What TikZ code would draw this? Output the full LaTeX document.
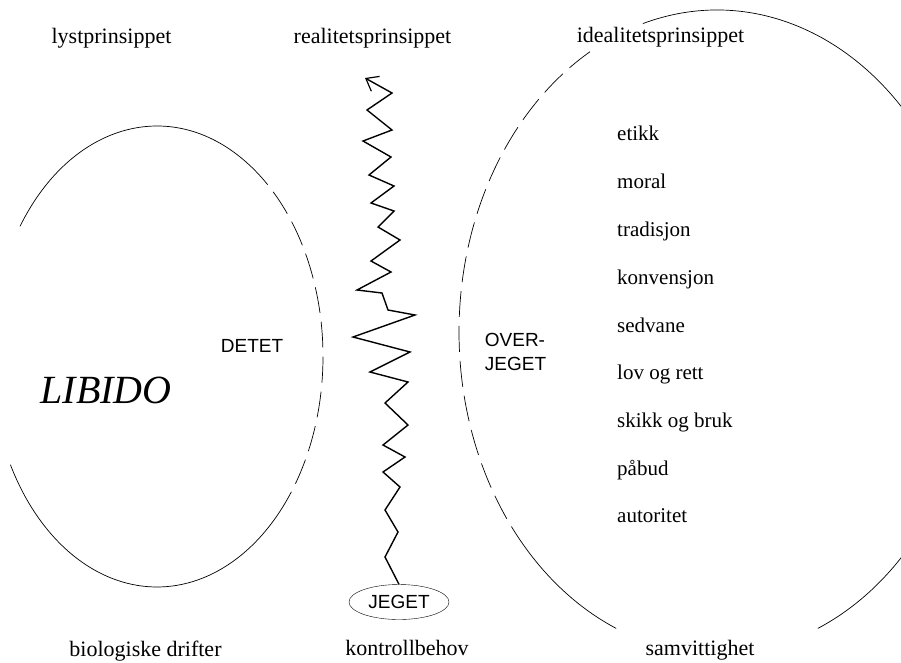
\documentclass[tikz,border=0pt]{standalone}
\usepackage{fontspec}
\setmainfont{Liberation Serif}
\setsansfont{Liberation Sans}
\usepackage{tikz}
\usetikzlibrary{shapes.geometric,arrows.meta}

\begin{document}
\begin{tikzpicture}[x=1pt,y=-1pt,
  principle/.style ={font=\fontsize{22}{26}\selectfont, anchor=base, inner sep=0pt},
  norm/.style ={font=\fontsize{21}{25}\selectfont, anchor=base west, inner sep=0pt},
  part/.style ={font=\sffamily\fontsize{19}{24}\selectfont, inner sep=0pt, align=left},
  ego/.style ={ellipse, draw, thin, inner sep=0pt, minimum width=100pt, minimum height=35pt},
  border/.style ={line width=0.7pt},
  broken/.style ={line width=0.7pt, dash pattern=on 26pt off 9pt},
  drive/.style ={line width=1.4pt, line join=miter, -{Straight Barb[length=11pt,width=17pt,line width=1.2pt]}}]
 \useasboundingbox (0,0) rectangle (901,662);
 \clip (0,0) rectangle (901,662);
 \node[principle] (lyst) at (111.5,43) {lystprinsippet};
 \node[principle] (realitet) at (372.5,43) {realitetsprinsippet};
 \node[principle] (idealitet) at (660.5,42) {idealitetsprinsippet};
 \node[principle] (drifter) at (145.5,656) {biologiske drifter};
 \node[principle] (kontroll) at (407,655) {kontrollbehov};
 \node[principle] (samvittighet) at (700,655) {samvittighet};
 \node[font=\itshape\fontsize{40}{44}\selectfont, inner sep=0pt] (libido) at (106,390) {LIBIDO};
 \node[part] (detet) at (252,345.5) {DETET};
 \node[part] (overjeget) at (515.5,352) {OVER-\\JEGET};
 \node[ego, font=\sffamily\fontsize{19}{24}\selectfont] (jeget) at (399,602) {JEGET};
 \node[norm] (etikk) at (617,140) {etikk};
 \node[norm] (moral) at (617,188) {moral};
 \node[norm] (tradisjon) at (617,236) {tradisjon};
 \node[norm] (konvensjon) at (617,284) {konvensjon};
 \node[norm] (sedvane) at (617,332) {sedvane};
 \node[norm] (lov) at (617,379) {lov og rett};
 \node[norm] (skikk) at (617,427) {skikk og bruk};
 \node[norm] (pabud) at (617,475) {påbud};
 \node[norm] (autoritet) at (617,522) {autoritet};
 \draw[border] (157,356.5) ++(-145.6:166 and 230.5) arc[start angle=-145.6, end angle=-55.9, x radius=166, y radius=230.5];
 \draw[broken] (157,356.5) ++(-55.9:166 and 230.5) arc[start angle=-55.9, end angle=38.5, x radius=166, y radius=230.5];
 \draw[border] (157,356.5) ++(38.5:166 and 230.5) arc[start angle=38.5, end angle=152, x radius=166, y radius=230.5];
 \draw[border] (717,332) ++(67:258 and 322) arc[start angle=67, end angle=-106.7, x radius=258, y radius=322];
 \draw[broken] (717,332) ++(-119.5:258 and 322) arc[start angle=-119.5, end angle=-221, x radius=258, y radius=322];
 \draw[border] (717,332) ++(-221:258 and 322) arc[start angle=-221, end angle=-247, x radius=258, y radius=322];
 \coordinate (tip) at (365,78);
 \draw[drive] (jeget.north) -- (385,557) -- (398,532) -- (385,510) -- (400,487) -- (383,472)
   -- (405,457) -- (383,445) -- (408,425) -- (385,403) -- (408,382) -- (370,372) -- (410,352)
   -- (353,337) -- (415,315) -- (388,310) -- (382,293) -- (357,290) -- (391,272) -- (371,261)
   -- (400,240) -- (378,227) -- (394,211) -- (371,203) -- (394,186) -- (369,175) -- (391,157)
   -- (363,141) -- (392,130) -- (367,110) -- (392,93) -- (tip);
\end{tikzpicture}
\end{document}
